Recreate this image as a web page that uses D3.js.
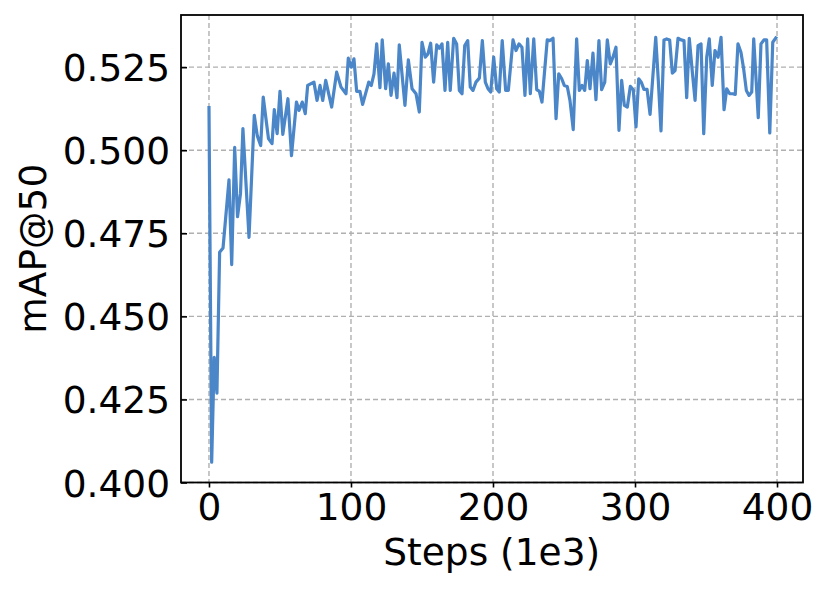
<!DOCTYPE html>
<html>
<head>
<meta charset="utf-8">
<script src="https://cdn.jsdelivr.net/npm/d3@7"></script>
<style>
  body { margin: 0; background: #fff; }
  text { font-family: "DejaVu Sans", sans-serif; fill: #000; }
</style>
</head>
<body>
<div id="chart"></div>
<script>
"use strict";

// -> training steps (in 1e3)
var steps = [0, 1.9, 3.7, 5.6, 7.5, 9.9, 14.1, 16.0, 18.1, 20.1, 22.2, 23.9, 28.2, 31.9, 34.0, 36.4, 38.2, 41.9, 44.4, 46.0,
    48.0, 50.0, 52.0, 55.6, 58.1, 61.6, 63.4, 65.7, 67.8, 69.5, 73.9, 76.1, 78.2, 80.1, 82.2, 86.4, 89.9, 93.0, 96.5, 98.1,
    100.2, 102.1, 104.0, 106.3, 108.2, 112.5, 114.3, 116.2, 118.1, 120.4, 122.0, 124.4, 126.3, 128.2, 130.3, 132.4, 134.0, 138.0, 140.4, 143.0,
    145.8, 148.1, 150.0, 152.3, 154.2, 156.1, 158.2, 160.4, 162.2, 164.1, 166.2, 168.1, 169.9, 172.3, 174.4, 176.3, 178.2, 180.1, 182.2, 184.0,
    185.9, 188.0, 190.4, 192.5, 194.6, 196.5, 198.4, 200.5, 202.6, 204.4, 206.5, 208.9, 210.8, 214.1, 216.2, 218.3, 220.4, 222.5, 224.4, 226.3,
    228.7, 230.8, 232.6, 234.5, 238.2, 240.1, 242.3, 244.4, 246.3, 248.4, 250.2, 252.3, 254.2, 256.5, 258.9, 260.8, 262.7, 264.6, 266.4, 268.3,
    270.4, 272.5, 274.6, 276.5, 278.7, 280.5, 282.6, 284.5, 286.6, 288.7, 290.6, 292.5, 294.6, 296.7, 298.8, 300.7, 302.6, 304.4, 306.3, 308.5,
    310.6, 314.6, 316.4, 318.3, 320.4, 322.3, 324.4, 326.3, 328.2, 330.3, 332.4, 334.5, 336.4, 338.2, 340.4, 342.3, 344.4, 346.5, 348.4, 350.5,
    352.3, 354.4, 356.3, 358.5, 360.6, 362.7, 364.6, 366.7, 368.8, 370.6, 372.5, 374.6, 376.5, 378.4, 380.3, 382.2, 383.6, 386.8, 388.7, 390.8,
    392.7, 394.9, 397.0, 399.8];

// -> mAP@50 at each step
var map50 = [0.5133, 0.4061, 0.4377, 0.4269, 0.4693, 0.4706, 0.4911, 0.4656, 0.5009, 0.4800, 0.4870, 0.5065, 0.4738, 0.5105, 0.5044, 0.5014, 0.5160, 0.5035, 0.5020, 0.5122,
    0.5050, 0.5177, 0.5048, 0.5155, 0.4984, 0.5145, 0.5120, 0.5145, 0.5110, 0.5195, 0.5205, 0.5150, 0.5195, 0.5150, 0.5210, 0.5130, 0.5235, 0.5190, 0.5170, 0.5277,
    0.5250, 0.5275, 0.5177, 0.5177, 0.5138, 0.5205, 0.5195, 0.5230, 0.5320, 0.5188, 0.5332, 0.5185, 0.5260, 0.5165, 0.5232, 0.5158, 0.5317, 0.5135, 0.5272, 0.5185,
    0.5170, 0.5115, 0.5325, 0.5280, 0.5290, 0.5322, 0.5205, 0.5317, 0.5307, 0.5320, 0.5180, 0.5325, 0.5180, 0.5337, 0.5320, 0.5180, 0.5170, 0.5315, 0.5330, 0.5190,
    0.5180, 0.5205, 0.5217, 0.5330, 0.5205, 0.5185, 0.5175, 0.5280, 0.5185, 0.5175, 0.5330, 0.5180, 0.5180, 0.5332, 0.5300, 0.5320, 0.5310, 0.5165, 0.5335, 0.5170,
    0.5335, 0.5182, 0.5178, 0.5145, 0.5332, 0.5330, 0.5337, 0.5095, 0.5230, 0.5215, 0.5195, 0.5192, 0.5150, 0.5062, 0.5335, 0.5180, 0.5195, 0.5180, 0.5270, 0.5185,
    0.5292, 0.5152, 0.5330, 0.5182, 0.5205, 0.5332, 0.5260, 0.5280, 0.5310, 0.5060, 0.5210, 0.5135, 0.5130, 0.5192, 0.5182, 0.5070, 0.5215, 0.5205, 0.5183, 0.5183,
    0.5108, 0.5340, 0.5210, 0.5058, 0.5332, 0.5335, 0.5332, 0.5232, 0.5240, 0.5337, 0.5332, 0.5330, 0.5158, 0.5337, 0.5234, 0.5150, 0.5315, 0.5320, 0.5050, 0.5280,
    0.5335, 0.5195, 0.5300, 0.5280, 0.5340, 0.5122, 0.5185, 0.5170, 0.5170, 0.5168, 0.5320, 0.5295, 0.5245, 0.5180, 0.5165, 0.5175, 0.5335, 0.5098, 0.5320, 0.5332,
    0.5332, 0.5052, 0.5325, 0.5342];

var xTicks = [0, 100, 200, 300, 400];
var yTicks = [0.400, 0.425, 0.450, 0.475, 0.500, 0.525];

var data = steps.map(function(s, i) { return { step: s, value: map50[i] }; });

// -> figure and axes box
var width = 831, height = 590;
var margin = {top: 15, right: 28, bottom: 107.5, left: 181};
var w = width - margin.left - margin.right,
    h = height - margin.top - margin.bottom;

var svg = d3.select("#chart").append("svg")
    .attr("width", width)
    .attr("height", height);

var g = svg.append("g")
    .attr("transform", "translate(" + margin.left + "," + margin.top + ")");

var x = d3.scaleLinear().domain([-19.7, 418.3]).range([0, w]),
    y = d3.scaleLinear().domain([0.4, 0.5407]).range([h, 0]);

// -> dashed grid
g.append("g").selectAll("line")
    .data(xTicks).enter().append("line")
    .attr("x1", function(d) { return x(d); })
    .attr("x2", function(d) { return x(d); })
    .attr("y1", 0).attr("y2", h)
    .attr("stroke", "#b0b0b0").attr("stroke-width", 1.4)
    .attr("stroke-dasharray", "5,3");

g.append("g").selectAll("line")
    .data(yTicks).enter().append("line")
    .attr("y1", function(d) { return y(d); })
    .attr("y2", function(d) { return y(d); })
    .attr("x1", 0).attr("x2", w)
    .attr("stroke", "#b0b0b0").attr("stroke-width", 1.4)
    .attr("stroke-dasharray", "5,3");

// -> the curve
var line = d3.line()
    .x(function(d) { return x(d.step); })
    .y(function(d) { return y(d.value); });

g.append("path")
    .datum(data)
    .attr("fill", "none")
    .attr("stroke", "#4a86c8")
    .attr("stroke-width", 3.2)
    .attr("stroke-linejoin", "round")
    .attr("d", line);

// -> x axis: ticks point outward
var xAxis = g.append("g")
    .attr("transform", "translate(0," + h + ")")
    .call(d3.axisBottom(x).tickValues(xTicks).tickSize(5).tickPadding(8).tickFormat(d3.format("d")));
xAxis.select(".domain").remove();
xAxis.selectAll("line").attr("stroke", "#000").attr("stroke-width", 1.6);
xAxis.selectAll("text")
    .attr("font-size", "37.5px")
    .attr("font-family", "DejaVu Sans")
    .attr("y", 37)
    .attr("dy", 0);

// -> y axis: ticks point inward
var yAxis = g.append("g")
    .call(d3.axisLeft(y).tickValues(yTicks).tickSize(-6).tickPadding(11).tickFormat(d3.format(".3f")));
yAxis.select(".domain").remove();
yAxis.selectAll("line").attr("stroke", "#000").attr("stroke-width", 1.6);
yAxis.selectAll("text")
    .attr("font-size", "37.5px")
    .attr("font-family", "DejaVu Sans")
    .attr("x", -11)
    .attr("dy", "0.36em");

// -> frame
g.append("rect")
    .attr("width", w).attr("height", h)
    .attr("fill", "none")
    .attr("stroke", "#000")
    .attr("stroke-width", 1.8);

// -> axis titles
svg.append("text")
    .attr("x", 491.7).attr("y", 565)
    .attr("text-anchor", "middle")
    .attr("font-size", "37.5px")
    .text("Steps (1e3)");

svg.append("text")
    .attr("transform", "translate(46," + (margin.top + h / 2) + ")rotate(-90)")
    .attr("text-anchor", "middle")
    .attr("font-size", "37.5px")
    .text("mAP@50");
</script>
</body>
</html>
